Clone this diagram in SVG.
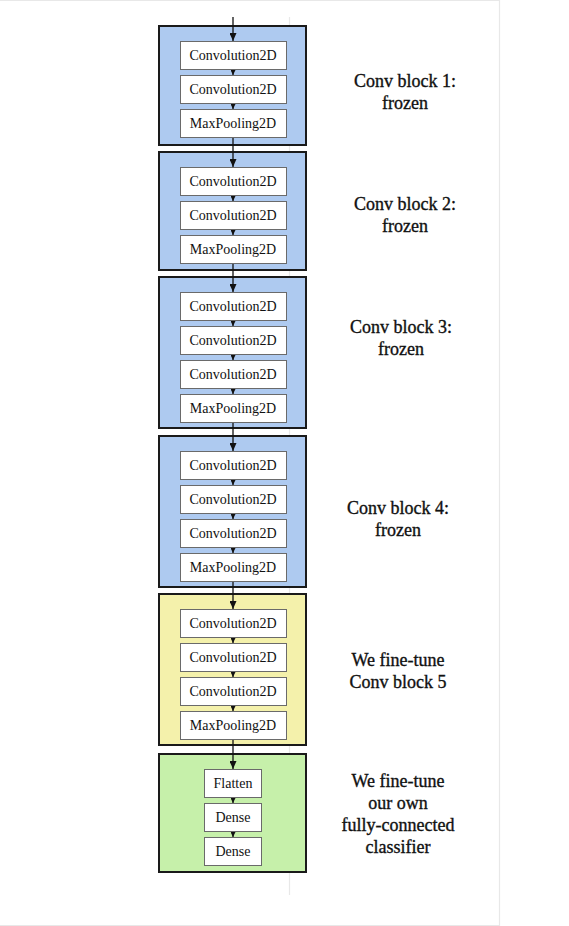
<svg xmlns="http://www.w3.org/2000/svg" width="569" height="926" viewBox="0 0 569 926">
<style>
.blk{stroke:#1a1a1a;stroke-width:2}
.blue{fill:#aecaf0}
.yellow{fill:#f4f1ab}
.green{fill:#c6f0aa}
.box{fill:#fff;stroke:#6a6a6a;stroke-width:1}
.t{font-family:"Liberation Serif","Times New Roman",serif;font-size:14px;fill:#111;text-anchor:middle}
.lbl{font-family:"Liberation Serif","Times New Roman",serif;font-size:18px;fill:#111;stroke:#111;stroke-width:0.35;text-anchor:middle}
.edge{stroke:#111;stroke-width:1.3;fill:none}
.big{marker-end:url(#ah)}
.sm{marker-end:url(#as)}
.guide{stroke:#e8e8e8;stroke-width:1.2;fill:none}
</style>
<defs>
<marker id="ah" markerUnits="userSpaceOnUse" markerWidth="8" markerHeight="7" refX="8" refY="3.5" orient="auto"><path d="M0,0 L8,3.5 L0,7 z" fill="#111"/></marker>
<marker id="as" markerUnits="userSpaceOnUse" markerWidth="5" markerHeight="5" refX="5" refY="2.5" orient="auto"><path d="M0,0 L5,2.5 L0,5 z" fill="#111"/></marker>
</defs>
<rect width="569" height="926" fill="#fff"/>
<g id="frame">
<path class="guide" d="M0,0.5 H499.5 V925.5 H0"/>
<path class="guide" d="M289.5,17 V895"/>
</g>
<g id="block1">
<rect class="blk blue" x="159" y="26" width="147" height="119"/>
<rect class="box" x="180.5" y="41.5" width="106" height="28"/><text class="t" x="233" y="60">Convolution2D</text>
<rect class="box" x="180.5" y="75.5" width="106" height="28"/><text class="t" x="233" y="94">Convolution2D</text>
<rect class="box" x="180.5" y="109.5" width="106" height="28"/><text class="t" x="233" y="128">MaxPooling2D</text>
<text class="lbl" x="405" y="87">Conv block 1:</text><text class="lbl" x="405" y="109">frozen</text>
</g>
<g id="block2">
<rect class="blk blue" x="159" y="152" width="147" height="118"/>
<rect class="box" x="180.5" y="167.5" width="106" height="28"/><text class="t" x="233" y="186">Convolution2D</text>
<rect class="box" x="180.5" y="201.5" width="106" height="28"/><text class="t" x="233" y="220">Convolution2D</text>
<rect class="box" x="180.5" y="235.5" width="106" height="28"/><text class="t" x="233" y="254">MaxPooling2D</text>
<text class="lbl" x="405" y="210">Conv block 2:</text><text class="lbl" x="405" y="232">frozen</text>
</g>
<g id="block3">
<rect class="blk blue" x="159" y="277" width="147" height="151"/>
<rect class="box" x="180.5" y="292.5" width="106" height="28"/><text class="t" x="233" y="311">Convolution2D</text>
<rect class="box" x="180.5" y="326.5" width="106" height="28"/><text class="t" x="233" y="345">Convolution2D</text>
<rect class="box" x="180.5" y="360.5" width="106" height="28"/><text class="t" x="233" y="379">Convolution2D</text>
<rect class="box" x="180.5" y="394.5" width="106" height="28"/><text class="t" x="233" y="413">MaxPooling2D</text>
<text class="lbl" x="401" y="333">Conv block 3:</text><text class="lbl" x="401" y="355">frozen</text>
</g>
<g id="block4">
<rect class="blk blue" x="159" y="436" width="147" height="151"/>
<rect class="box" x="180.5" y="451.5" width="106" height="28"/><text class="t" x="233" y="470">Convolution2D</text>
<rect class="box" x="180.5" y="485.5" width="106" height="28"/><text class="t" x="233" y="504">Convolution2D</text>
<rect class="box" x="180.5" y="519.5" width="106" height="28"/><text class="t" x="233" y="538">Convolution2D</text>
<rect class="box" x="180.5" y="553.5" width="106" height="28"/><text class="t" x="233" y="572">MaxPooling2D</text>
<text class="lbl" x="398" y="514">Conv block 4:</text><text class="lbl" x="398" y="536">frozen</text>
</g>
<g id="block5">
<rect class="blk yellow" x="159" y="594" width="147" height="151"/>
<rect class="box" x="180.5" y="609.5" width="106" height="28"/><text class="t" x="233" y="628">Convolution2D</text>
<rect class="box" x="180.5" y="643.5" width="106" height="28"/><text class="t" x="233" y="662">Convolution2D</text>
<rect class="box" x="180.5" y="677.5" width="106" height="28"/><text class="t" x="233" y="696">Convolution2D</text>
<rect class="box" x="180.5" y="711.5" width="106" height="28"/><text class="t" x="233" y="730">MaxPooling2D</text>
<text class="lbl" x="398" y="666">We fine-tune</text><text class="lbl" x="398" y="688">Conv block 5</text>
</g>
<g id="block6">
<rect class="blk green" x="159" y="754" width="147" height="118"/>
<rect class="box" x="204.5" y="769.5" width="57" height="28"/><text class="t" x="233" y="788">Flatten</text>
<rect class="box" x="204.5" y="803.5" width="57" height="28"/><text class="t" x="233" y="822">Dense</text>
<rect class="box" x="204.5" y="837.5" width="57" height="28"/><text class="t" x="233" y="856">Dense</text>
<text class="lbl" x="398" y="787">We fine-tune</text><text class="lbl" x="398" y="809">our own</text><text class="lbl" x="398" y="831">fully-connected</text><text class="lbl" x="398" y="853">classifier</text>
</g>
<g id="connectors">
<path class="edge big" d="M233,17 V41"/>
<path class="edge sm" d="M233,70 V75"/><path class="edge sm" d="M233,104 V109"/>
<path class="edge big" d="M233,138 V167"/>
<path class="edge sm" d="M233,196 V201"/><path class="edge sm" d="M233,230 V235"/>
<path class="edge big" d="M233,264 V292"/>
<path class="edge sm" d="M233,321 V326"/><path class="edge sm" d="M233,355 V360"/><path class="edge sm" d="M233,389 V394"/>
<path class="edge big" d="M233,423 V451"/>
<path class="edge sm" d="M233,480 V485"/><path class="edge sm" d="M233,514 V519"/><path class="edge sm" d="M233,548 V553"/>
<path class="edge big" d="M233,582 V609"/>
<path class="edge sm" d="M233,638 V643"/><path class="edge sm" d="M233,672 V677"/><path class="edge sm" d="M233,706 V711"/>
<path class="edge big" d="M233,740 V769"/>
<path class="edge sm" d="M233,798 V803"/><path class="edge sm" d="M233,832 V837"/>
</g>
</svg>
